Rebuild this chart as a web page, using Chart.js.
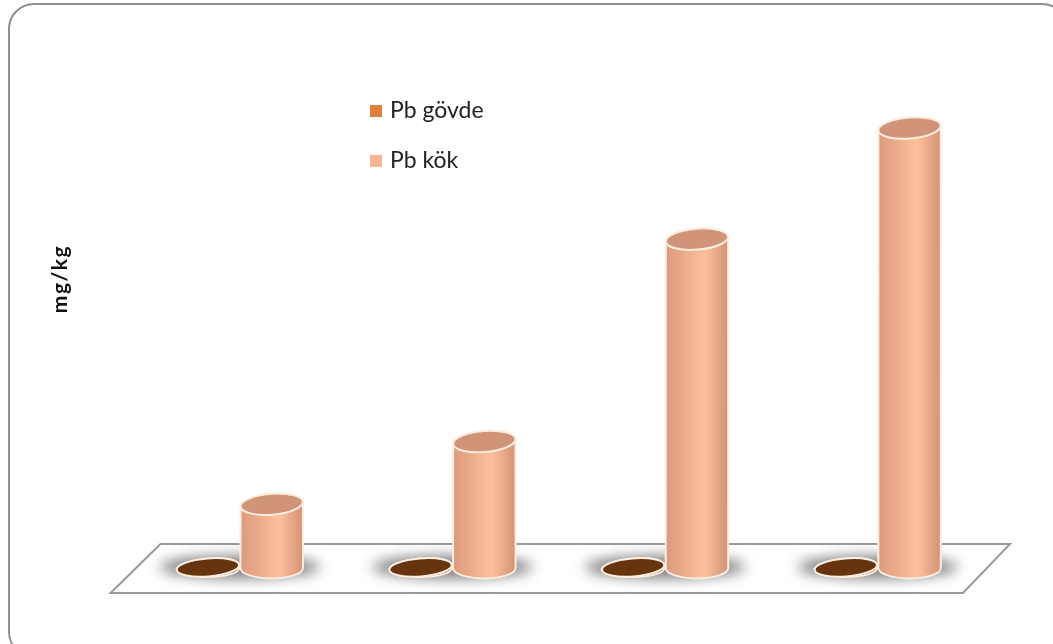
<!DOCTYPE html>
<html>
<head>
<meta charset="utf-8">
<script src="https://cdn.jsdelivr.net/npm/chart.js@4"></script>
<style>
    html, body { margin: 0; padding: 0; background: #fff; overflow: hidden; }
    .wrap { position: relative; width: 1053px; height: 644px; }
    .frame {
        position: absolute; left: 8px; top: 3px; width: 1060px; height: 655px;
        border: 2px solid #8f8f8f; border-radius: 26px; box-sizing: border-box;
    }
    canvas { position: absolute; left: 0; top: 0; }
</style>
</head>
<body>
<div class="wrap">
    <div class="frame"></div>
    <canvas id="bar-chart" width="1053" height="644"></canvas>
</div>
<script>
// values (no value ticks shown, scale estimated)
const categories = ['1', '2', '3', '4'];
const govdeValues = [0.05, 0.05, 0.05, 0.05];
const kokValues = [5.8, 11.5, 29.9, 40];
const seriesNames = ['Pb gövde', 'Pb kök'];
const axisTitle = 'mg/kg';

const legendColors = ['#df7f3b', '#f9b592'];
const sideColors = [
    ['#7a4019', '#9a5426', '#7a4019'],
    ['#dc9a7c', '#fdc09c', '#d39274']
];
const topColors = ['#66340f', '#d19479'];

function ellipsePath(ctx, cx, cy, rx, ry, rot) {
    ctx.beginPath();
    ctx.ellipse(cx, cy, rx, ry, rot, 0, Math.PI * 2);
}

function drawCylinder(ctx, cx, top, base, w, ds) {
    const rx = w / 2;
    const ry = ds === 0 ? 9 : 10.5;
    const rot = -0.08;

    // side
    const grad = ctx.createLinearGradient(cx - rx, 0, cx + rx, 0);
    grad.addColorStop(0, sideColors[ds][0]);
    grad.addColorStop(0.62, sideColors[ds][1]);
    grad.addColorStop(1, sideColors[ds][2]);
    ctx.beginPath();
    ctx.moveTo(cx - rx, base);
    ctx.ellipse(cx, base, rx, ry, 0, Math.PI, 0, true);
    ctx.ellipse(cx, top, rx, ry, rot, 0, Math.PI, true);
    ctx.closePath();
    ctx.fillStyle = grad;
    ctx.fill();
    ctx.strokeStyle = '#fbeee0';
    ctx.lineWidth = 2;
    ctx.stroke();

    // top face
    ellipsePath(ctx, cx, top, rx, ry, rot);
    ctx.fillStyle = topColors[ds];
    ctx.fill();
    ctx.stroke();
}

const cylinderPlugin = {
    id: 'cylinders',
    beforeDatasetsDraw(chart) {
        const ctx = chart.ctx;
        const a = chart.chartArea;
        const baseY = chart.scales.y.getPixelForValue(0);

        // floor
        ctx.save();
        ctx.beginPath();
        ctx.moveTo(a.left - 23, baseY + 25);
        ctx.lineTo(a.right - 21, baseY + 25);
        ctx.lineTo(a.right + 26, baseY - 24);
        ctx.lineTo(a.left + 27, baseY - 24);
        ctx.closePath();
        ctx.fillStyle = '#ffffff';
        ctx.fill();
        ctx.strokeStyle = '#9a9a9a';
        ctx.lineWidth = 2;
        ctx.stroke();

        // shadows behind each group
        ctx.filter = 'blur(7px)';
        ctx.fillStyle = 'rgba(105,105,105,0.9)';
        categories.forEach((c, i) => {
            const x = chart.scales.x.getPixelForValue(i);
            ellipsePath(ctx, x, baseY - 1, 80, 11, 0);
            ctx.fill();
        });
        ctx.filter = 'none';
        ctx.restore();
    },
    afterDatasetsDraw(chart) {
        const ctx = chart.ctx;
        ctx.save();
        chart.data.datasets.forEach((d, ds) => {
            chart.getDatasetMeta(ds).data.forEach((el) => {
                const p = el.getProps(['x', 'y', 'base', 'width'], true);
                drawCylinder(ctx, p.x, p.y, p.base, p.width, ds);
            });
        });
        ctx.restore();
    },
    afterDraw(chart) {
        const ctx = chart.ctx;
        ctx.save();
        // legend
        ctx.font = '23px Lato';
        ctx.textBaseline = 'middle';
        seriesNames.forEach((name, i) => {
            const y = 111 + i * 50;
            ctx.fillStyle = legendColors[i];
            ctx.fillRect(370, y - 6, 12, 12);
            ctx.fillStyle = '#222';
            ctx.fillText(name, 390, y);
        });
        // value axis title
        ctx.translate(60, 279);
        ctx.rotate(-Math.PI / 2);
        ctx.font = 'bold 21px Lato';
        ctx.letterSpacing = '1.5px';
        ctx.textAlign = 'center';
        ctx.fillStyle = '#111';
        ctx.fillText(axisTitle, 0, 0);
        ctx.restore();
    }
};

let barCanvas = document.getElementById('bar-chart').getContext('2d');

let barChart = new Chart(barCanvas, {
    type: 'bar',
    data: {
        labels: categories,
        datasets: [{
            label: seriesNames[0],
            data: govdeValues,
            backgroundColor: 'rgba(0,0,0,0)'
        }, {
            label: seriesNames[1],
            data: kokValues,
            backgroundColor: 'rgba(0,0,0,0)'
        }]
    },
    options: {
        responsive: false,
        animation: false,
        categoryPercentage: 0.6,
        barPercentage: 0.98,
        layout: {
            padding: { left: 133.5, right: 69, top: 73, bottom: 76 }
        },
        plugins: {
            legend: { display: false },
            tooltip: { enabled: false }
        },
        scales: {
            x: { display: false },
            y: {
                display: false,
                min: 0,
                max: 45
            }
        }
    },
    plugins: [cylinderPlugin]
});
</script>
</body>
</html>
